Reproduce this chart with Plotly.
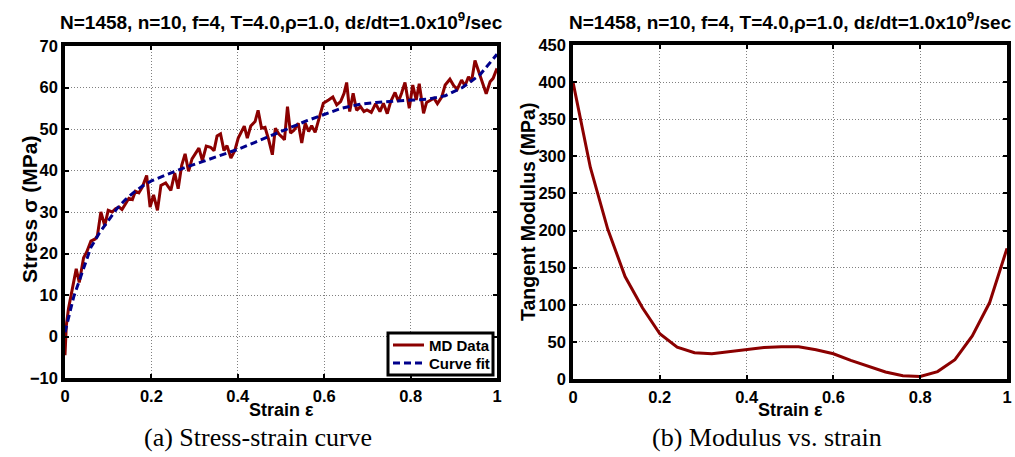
import plotly.graph_objects as go

# ---------------- data ----------------
strain_md = [0.0, 0.003, 0.008, 0.016, 0.026, 0.033, 0.043, 0.05, 0.06, 0.07, 0.075, 0.083, 0.092, 0.10,
             0.109, 0.117, 0.125, 0.132, 0.14, 0.148, 0.156, 0.163, 0.171, 0.179, 0.189, 0.197, 0.205,
             0.214, 0.222, 0.233, 0.245, 0.254, 0.262, 0.27, 0.278, 0.286, 0.294, 0.303, 0.31, 0.318,
             0.327, 0.337, 0.345, 0.352, 0.36, 0.368, 0.375, 0.384, 0.393, 0.401, 0.415, 0.422, 0.43,
             0.44, 0.447, 0.455, 0.463, 0.471, 0.48, 0.487, 0.495, 0.503, 0.508, 0.515, 0.522, 0.53,
             0.54, 0.548, 0.556, 0.564, 0.571, 0.579, 0.59, 0.598, 0.61, 0.62, 0.629, 0.638, 0.646,
             0.652, 0.659, 0.667, 0.675, 0.684, 0.692, 0.699, 0.709, 0.719, 0.729, 0.737, 0.746, 0.754,
             0.764, 0.772, 0.779, 0.787, 0.797, 0.805, 0.813, 0.82, 0.83, 0.837, 0.847, 0.854, 0.862,
             0.872, 0.88, 0.891, 0.9, 0.908, 0.918, 0.926, 0.934, 0.941, 0.949, 0.959, 0.975, 0.984,
             0.991, 1.0]
stress_md = [-4.5, 2.6, 6.7, 10.7, 16.3, 13.0, 19.0, 20.3, 23.0, 23.5, 24.3, 30.0, 26.7, 30.4,
             30.0, 30.8, 31.2, 30.6, 32.0, 33.3, 33.0, 35.0, 34.6, 36.0, 38.8, 31.2, 34.1,
             30.4, 36.4, 37.0, 35.2, 39.4, 35.6, 41.2, 44.0, 39.8, 42.8, 44.4, 45.4, 42.4,
             45.9, 45.6, 44.8, 48.3, 48.8, 44.8, 46.0, 43.0, 44.8, 47.8, 50.7, 47.8, 50.7,
             51.8, 54.5, 50.2, 50.4, 47.6, 43.8, 50.2, 48.8, 48.0, 47.4, 55.4, 49.0, 49.7,
             51.4, 46.6, 51.4, 49.4, 50.8, 49.2, 53.4, 56.2, 57.0, 57.7, 55.8, 56.6, 58.6,
             61.2, 54.2, 58.6, 54.5, 55.4, 54.2, 54.6, 54.0, 56.1, 54.2, 56.2, 53.7, 56.6,
             58.8, 56.6, 58.6, 61.2, 55.0, 60.6, 57.0, 60.9, 53.8, 56.4, 57.0, 57.4, 56.1,
             57.7, 60.6, 62.0, 60.4, 59.6, 61.8, 60.4, 62.6, 61.4, 66.5, 63.4, 58.5, 61.4,
             62.2, 64.6]

strain_fit = [0.0, 0.02, 0.04, 0.06, 0.08, 0.10, 0.12, 0.14, 0.16, 0.18, 0.20, 0.24, 0.28, 0.32,
              0.36, 0.40, 0.44, 0.48, 0.52, 0.56, 0.60, 0.64, 0.68, 0.72, 0.76, 0.80, 0.84, 0.88,
              0.92, 0.96, 1.00]
stress_fit = [1.0, 9.5, 15.5, 21.5, 25.0, 28.0, 30.8, 33.0, 34.8, 36.3, 37.5, 39.2, 40.8, 42.2,
              43.6, 45.1, 46.8, 48.5, 50.2, 52.0, 53.5, 55.0, 55.9, 56.4, 56.7, 56.9, 57.2, 58.0,
              60.0, 63.0, 68.0]

strain_mod = [0.0, 0.04, 0.08, 0.12, 0.16, 0.20, 0.24, 0.28, 0.32, 0.36, 0.40, 0.44, 0.48, 0.52,
              0.56, 0.60, 0.64, 0.68, 0.72, 0.76, 0.80, 0.84, 0.88, 0.92, 0.96, 1.00]
modulus = [400, 285, 202, 138, 96, 61, 43, 35.5, 34, 36.5, 40, 42.3, 43.6, 43.4,
           39.5, 34, 25, 17, 9.5, 4.5, 3.5, 10, 26, 58, 103, 176]

x_ticks = [0, 0.2, 0.4, 0.6, 0.8, 1]
stress_ticks = [-10, 0, 10, 20, 30, 40, 50, 60, 70]
modulus_ticks = [0, 50, 100, 150, 200, 250, 300, 350, 400, 450]

legend_labels = ["MD Data", "Curve fit"]
title_text = "N=1458, n=10, f=4, T=4.0,ρ=1.0, dε/dt=1.0x10<sup>9</sup>/sec"

# ---------------- figure ----------------
W, H = 1015, 457
FONT = "Liberation Sans, Arial, Helvetica, sans-serif"
SERIF = "Liberation Serif, Times New Roman, serif"
RED = "#8B0000"
BLUE = "#00008B"
MD_LINE = dict(color=RED, width=3)
FIT_LINE = dict(color=BLUE, width=3, dash="7px,4px")

fig = go.Figure()
fig.add_trace(go.Scatter(x=strain_md, y=stress_md, mode="lines", name=legend_labels[0],
                         line=MD_LINE, xaxis="x", yaxis="y", showlegend=False))
fig.add_trace(go.Scatter(x=strain_fit, y=stress_fit, mode="lines", name=legend_labels[1],
                         line=FIT_LINE, xaxis="x", yaxis="y", showlegend=False))
fig.add_trace(go.Scatter(x=strain_mod, y=modulus, mode="lines", name="Tangent modulus",
                         line=MD_LINE, xaxis="x2", yaxis="y2", showlegend=False))

def ax(**kw):
    d = dict(showline=True, linecolor="black", linewidth=3.5, mirror="ticks",
             ticks="inside", ticklen=4, tickwidth=2, tickcolor="black",
             showgrid=True, gridcolor="#808080", gridwidth=1, griddash="1px,2px",
             zeroline=False, automargin=False,
             tickfont=dict(family=FONT, size=16.5, color="black", weight="bold"))
    d.update(kw)
    return d

def px_x(p):
    return p / W

def px_y(p):
    return 1 - p / H

# legend box (drawn in paper space, inside the lower-right corner of panel a)
LEG = dict(x0=388, x1=493, y0=333, y1=375)
leg_rows = [345, 363]
shapes = [dict(type="rect", xref="paper", yref="paper",
               x0=px_x(LEG["x0"]), x1=px_x(LEG["x1"]), y0=px_y(LEG["y1"]), y1=px_y(LEG["y0"]),
               fillcolor="white", line=dict(color="black", width=3), layer="above")]
for ry, st in zip(leg_rows, [MD_LINE, FIT_LINE]):
    shapes.append(dict(type="line", xref="paper", yref="paper",
                       x0=px_x(393), x1=px_x(424), y0=px_y(ry), y1=px_y(ry),
                       line=dict(color=st["color"], width=st["width"],
                                 dash=st.get("dash", "solid")), layer="above"))

fig.update_layout(
    width=W, height=H, autosize=False,
    margin=dict(l=0, r=0, t=0, b=0, pad=0, autoexpand=False),
    paper_bgcolor="white", plot_bgcolor="white",
    xaxis=ax(domain=[px_x(65), px_x(497)], range=[0, 1], tickvals=x_ticks, anchor="y"),
    yaxis=ax(domain=[px_y(378), px_y(46)], range=[-10, 70], tickvals=stress_ticks, anchor="x"),
    xaxis2=ax(domain=[px_x(573), px_x(1007)], range=[0, 1], tickvals=x_ticks, anchor="y2"),
    yaxis2=ax(domain=[px_y(379), px_y(45)], range=[0, 450], tickvals=modulus_ticks, anchor="x2"),
    showlegend=False,
    shapes=shapes,
)

ann = []
# legend texts
for ry, lab in zip(leg_rows, legend_labels):
    ann.append(dict(text=lab, x=px_x(427), y=px_y(ry), xref="paper", yref="paper",
                    showarrow=False, xanchor="left", yanchor="middle",
                    font=dict(family=FONT, size=15, color="black", weight="bold")))
# titles
for cx in [(65 + 497) / 2, (573 + 1007) / 2]:
    ann.append(dict(text=title_text, x=px_x(cx), y=px_y(21), xref="paper", yref="paper",
                    showarrow=False, xanchor="center", yanchor="middle",
                    font=dict(family=FONT, size=19, color="black", weight="bold")))
# x axis titles
for cx in [(65 + 497) / 2, (573 + 1007) / 2]:
    ann.append(dict(text="Strain ε", x=px_x(cx), y=px_y(410), xref="paper", yref="paper",
                    showarrow=False, xanchor="center", yanchor="middle",
                    font=dict(family=FONT, size=18, color="black", weight="bold")))
# y axis titles
ann.append(dict(text="Stress σ (MPa)", x=px_x(30), y=px_y(210), xref="paper", yref="paper",
                showarrow=False, textangle=-90, xanchor="center", yanchor="middle",
                font=dict(family=FONT, size=21, color="black", weight="bold")))
ann.append(dict(text="Tangent Modulus (MPa)", x=px_x(528), y=px_y(212), xref="paper", yref="paper",
                showarrow=False, textangle=-90, xanchor="center", yanchor="middle",
                font=dict(family=FONT, size=19.5, color="black", weight="bold")))
# captions
ann.append(dict(text="(a) Stress-strain curve", x=px_x(258), y=px_y(437), xref="paper", yref="paper",
                showarrow=False, xanchor="center", yanchor="middle",
                font=dict(family=SERIF, size=26, color="black")))
ann.append(dict(text="(b) Modulus vs. strain", x=px_x(767), y=px_y(437), xref="paper", yref="paper",
                showarrow=False, xanchor="center", yanchor="middle",
                font=dict(family=SERIF, size=26, color="black")))
fig.update_layout(annotations=ann)

fig.write_html("out.html", config={"displayModeBar": False},
               post_script="document.body.style.margin='0';document.body.style.overflow='hidden';")
